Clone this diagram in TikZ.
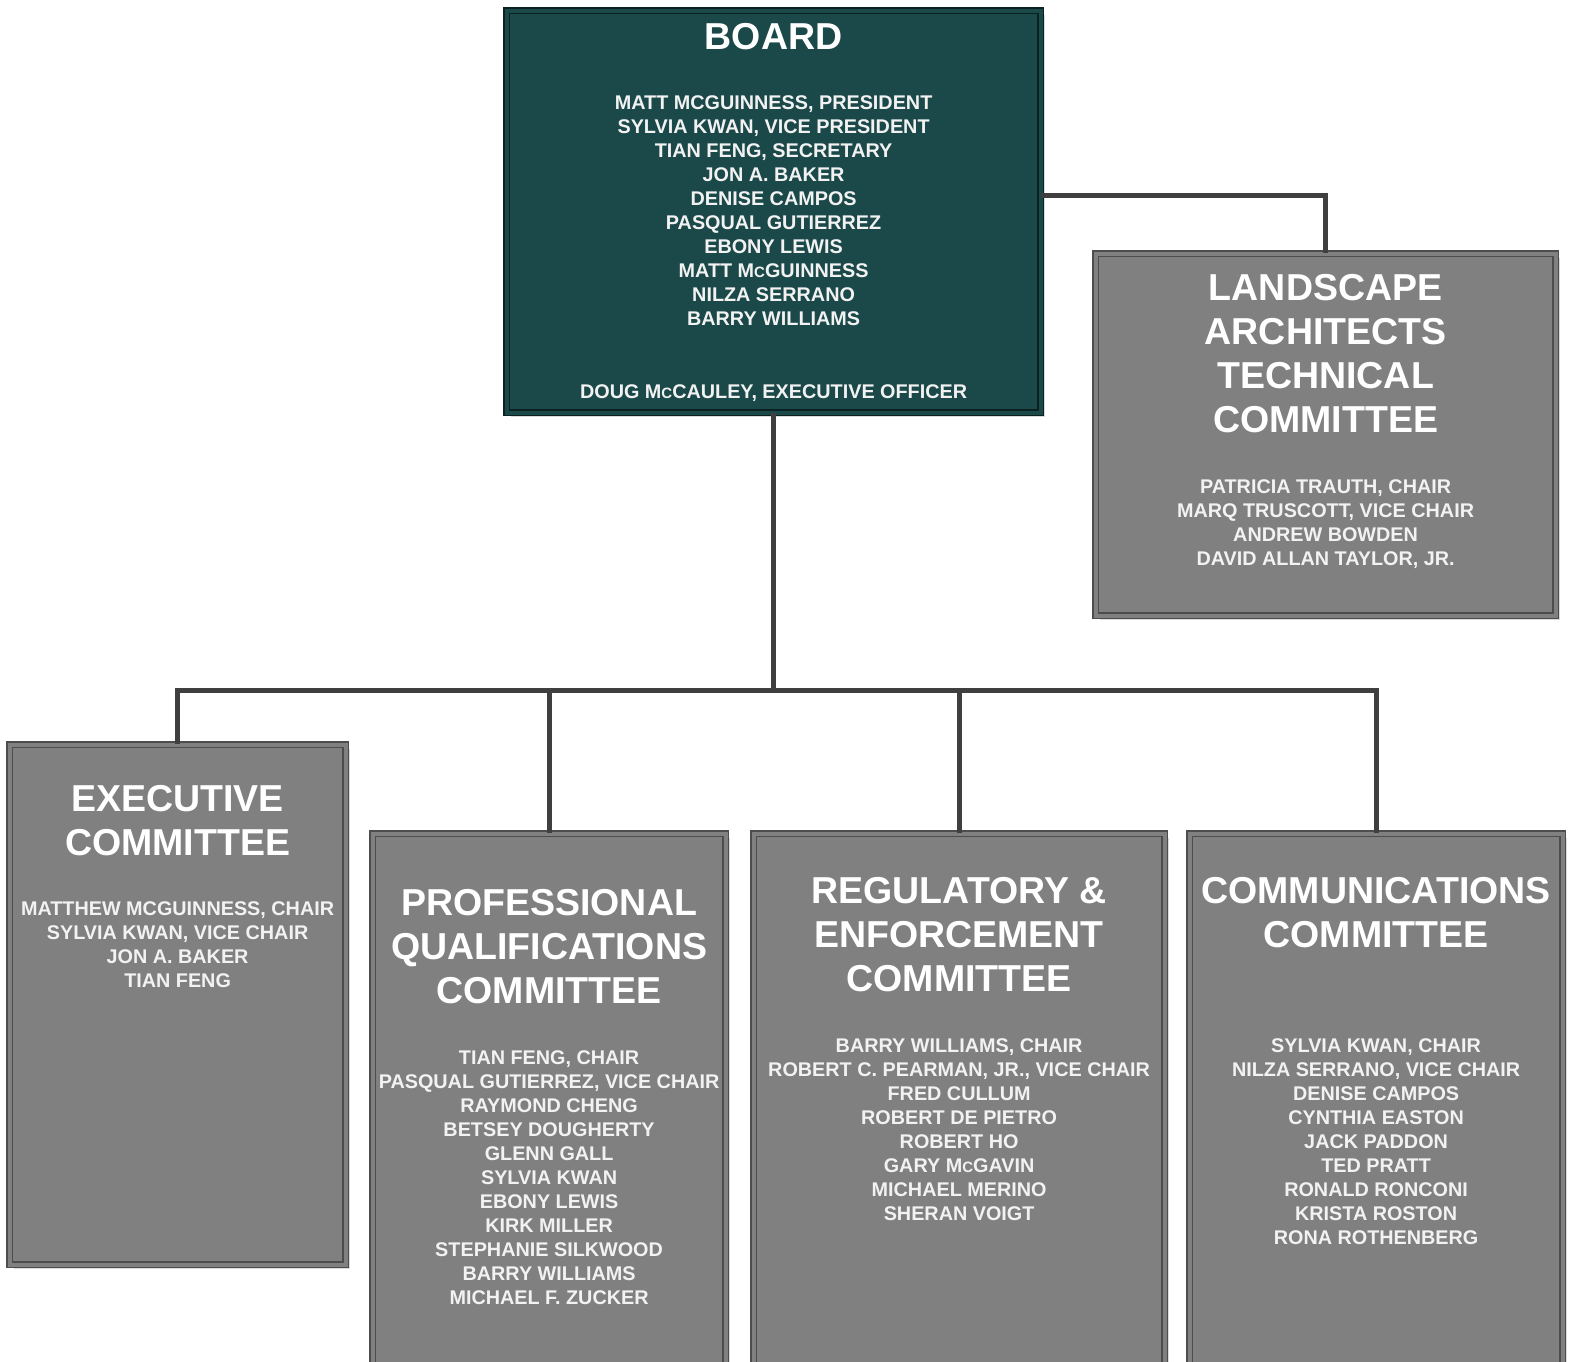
\documentclass[tikz,border=0pt]{standalone}
\usepackage{fontspec}
\setmainfont{Liberation Sans}
\usetikzlibrary{positioning,shadows}
\definecolor{boardgreen}{HTML}{1B4949}
\definecolor{boxgray}{HTML}{808080}
\definecolor{rimgray}{HTML}{4D4D4D}
\definecolor{wiregray}{HTML}{3F3F3F}
\definecolor{namewhite}{HTML}{F2F2F2}
\newcommand{\smallc}{{\fontsize{15}{15}\selectfont C}}
\tikzset{
  cbox/.style={rectangle, anchor=north west, inner sep=0pt,
    fill=boxgray, draw=rimgray, line width=1.2pt,
    double=boxgray, double distance=4pt,
    drop shadow={shadow xshift=4pt, shadow yshift=-4pt, fill=black!14, opacity=1}},
  bbox/.style={cbox, fill=boardgreen, draw=black!55!boardgreen, double=boardgreen},
  ttl/.style={font=\fontsize{37.5}{44}\selectfont\bfseries, text=white, align=center, inner sep=0pt},
  nms/.style={font=\fontsize{19.8}{24}\selectfont\bfseries, text=namewhite, align=center, inner sep=0pt},
  wire/.style={draw=wiregray, line width=5pt, line join=miter}
}

\begin{document}
\begin{tikzpicture}[x=1pt,y=-1pt]
    \useasboundingbox (0,0) rectangle (1580,1362);
    % boxes
    \node [bbox, minimum width=534pt, minimum height=402pt] (board) at (506,10) {};
    \node [cbox, minimum width=460pt, minimum height=362pt] (land) at (1095,253) {};
    \node [cbox, minimum width=336pt, minimum height=520pt] (exec) at (9,744) {};
    \node [cbox, minimum width=353pt, minimum height=600pt] (prof) at (372,833) {};
    \node [cbox, minimum width=411pt, minimum height=600pt] (reg) at (753,833) {};
    \node [cbox, minimum width=373pt, minimum height=600pt] (comm) at (1189,833) {};
    % board
    \node [ttl, below=13pt of board.north] (boardT) {BOARD};
    \node [nms, below=46pt of boardT] (boardN) {MATT MCGUINNESS, PRESIDENT\\ SYLVIA KWAN, VICE PRESIDENT\\ TIAN FENG, SECRETARY\\ JON A. BAKER\\ DENISE CAMPOS\\ PASQUAL GUTIERREZ\\ EBONY LEWIS\\ MATT M\smallc GUINNESS\\ NILZA SERRANO\\ BARRY WILLIAMS};
    \node [nms, above=11pt of board.south] (boardX) {DOUG M\smallc CAULEY, EXECUTIVE OFFICER};
    % committees
    \node [ttl, below=21pt of land.north] (landT) {LANDSCAPE\\ ARCHITECTS\\ TECHNICAL\\ COMMITTEE};
    \node [nms, below=47pt of landT] (landN) {PATRICIA TRAUTH, CHAIR\\ MARQ TRUSCOTT, VICE CHAIR\\ ANDREW BOWDEN\\ DAVID ALLAN TAYLOR, JR.};
    \node [ttl, below=41pt of exec.north] (execT) {EXECUTIVE\\ COMMITTEE};
    \node [nms, below=46pt of execT] (execN) {MATTHEW MCGUINNESS, CHAIR\\ SYLVIA KWAN, VICE CHAIR\\ JON A. BAKER\\ TIAN FENG};
    \node [ttl, below=56pt of prof.north] (profT) {PROFESSIONAL\\ QUALIFICATIONS\\ COMMITTEE};
    \node [nms, below=47pt of profT] (profN) {TIAN FENG, CHAIR\\ PASQUAL GUTIERREZ, VICE CHAIR\\ RAYMOND CHENG\\ BETSEY DOUGHERTY\\ GLENN GALL\\ SYLVIA KWAN\\ EBONY LEWIS\\ KIRK MILLER\\ STEPHANIE SILKWOOD\\ BARRY WILLIAMS\\ MICHAEL F. ZUCKER};
    \node [ttl, below=44pt of reg.north] (regT) {REGULATORY \&\\ ENFORCEMENT\\ COMMITTEE};
    \node [nms, below=47pt of regT] (regN) {BARRY WILLIAMS, CHAIR\\ ROBERT C. PEARMAN, JR., VICE CHAIR\\ FRED CULLUM\\ ROBERT DE PIETRO\\ ROBERT HO\\ GARY M\smallc GAVIN\\ MICHAEL MERINO\\ SHERAN VOIGT};
    \node [ttl, below=44pt of comm.north] (commT) {COMMUNICATIONS\\ COMMITTEE};
    \node [nms, below=91pt of commT] (commN) {SYLVIA KWAN, CHAIR\\ NILZA SERRANO, VICE CHAIR\\ DENISE CAMPOS\\ CYNTHIA EASTON\\ JACK PADDON\\ TED PRATT\\ RONALD RONCONI\\ KRISTA ROSTON\\ RONA ROTHENBERG};
    % connectors
    \coordinate (bus) at (board.south |- 0,690);
    \draw [wire] (board.south) -- (bus);
    \draw [wire] (bus) -| (exec.north);
    \draw [wire] (bus) -| (prof.north);
    \draw [wire] (bus) -| (reg.north);
    \draw [wire] (bus) -| (comm.north);
    \draw [wire] ([yshift=16pt]board.east) -| (land.north);
  \end{tikzpicture}
\end{document}
